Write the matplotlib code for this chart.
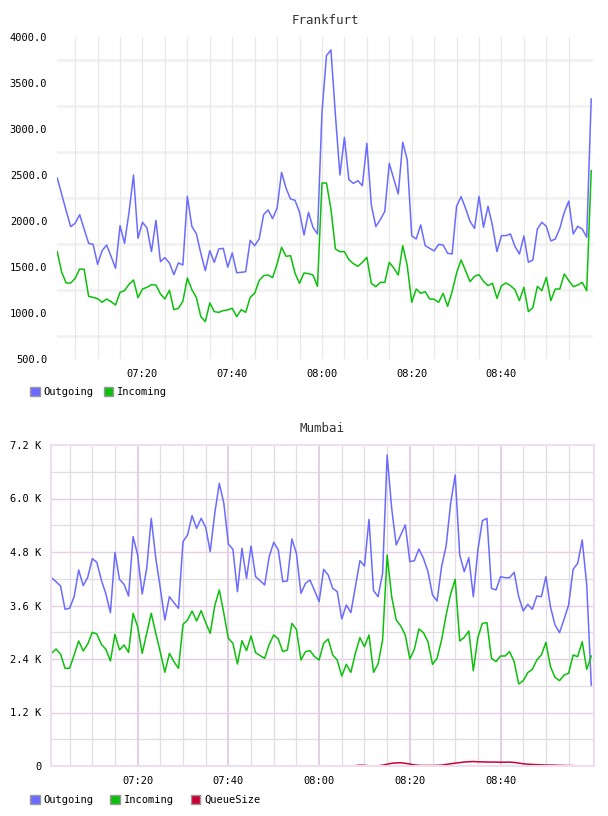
"""Two traffic panels (Frankfurt / Mumbai), per-minute samples 07:01 - 09:00."""

import numpy as np
import matplotlib
matplotlib.use("Agg")
import matplotlib.pyplot as plt
from matplotlib.patches import Patch
from matplotlib.ticker import FixedLocator, FuncFormatter

# minutes after 07:00, one sample per minute
MINUTES = list(range(1, 121))

FRA_OUTGOING = [
    2467, 2290, 2110, 1939, 1975, 2069, 1913, 1757, 1746, 1529,
    1678, 1739, 1616, 1486, 1949, 1757, 2094, 2500, 1812, 1986,
    1924, 1667, 2007, 1558, 1602, 1544, 1417, 1544, 1522, 2268,
    1942, 1862, 1649, 1460, 1678, 1551, 1696, 1703, 1497, 1653,
    1438, 1442, 1449, 1790, 1732, 1805, 2069, 2120, 2025, 2141,
    2529, 2355, 2239, 2225, 2094, 1848, 2094, 1931, 1859, 3181,
    3797, 3859, 3150, 2500, 2909, 2449, 2409, 2438, 2384, 2844,
    2174, 1939, 2015, 2105, 2627, 2457, 2294, 2855, 2667, 1841,
    1804, 1957, 1732, 1703, 1674, 1746, 1739, 1649, 1641, 2160,
    2265, 2138, 1996, 1920, 2268, 1931, 2160, 1949, 1667, 1841,
    1841, 1859, 1725, 1641, 1837, 1551, 1576, 1913, 1986, 1942,
    1783, 1804, 1920, 2094, 2217, 1859, 1942, 1913, 1823, 3326,
]
FRA_INCOMING = [
    1667, 1442, 1326, 1326, 1377, 1478, 1475, 1181, 1170, 1156,
    1116, 1152, 1123, 1087, 1225, 1243, 1312, 1359, 1167, 1261,
    1279, 1308, 1304, 1207, 1152, 1247, 1036, 1051, 1127, 1381,
    1254, 1170, 960, 906, 1109, 1015, 1007, 1026, 1033, 1051,
    960, 1036, 1007, 1170, 1214, 1352, 1406, 1413, 1384, 1533,
    1714, 1616, 1623, 1431, 1323, 1435, 1428, 1413, 1290, 2413,
    2413, 2130, 1696, 1667, 1667, 1580, 1536, 1507, 1551, 1605,
    1323, 1286, 1333, 1333, 1551, 1489, 1413, 1732, 1515, 1116,
    1261, 1214, 1232, 1152, 1149, 1116, 1214, 1073, 1232, 1435,
    1576, 1460, 1341, 1398, 1417, 1344, 1297, 1323, 1159, 1297,
    1326, 1297, 1254, 1134, 1279, 1015, 1058, 1290, 1243, 1388,
    1134, 1261, 1261, 1424, 1352, 1286, 1304, 1333, 1243, 2547,
]

BOM_OUTGOING = [
    4224, 4135, 4038, 3514, 3537, 3798, 4396, 4045, 4232, 4651,
    4568, 4172, 3858, 3439, 4793, 4187, 4075, 3813, 5144, 4733,
    3858, 4434, 5555, 4658, 3985, 3275, 3798, 3664, 3537, 5032,
    5182, 5615, 5331, 5555, 5354, 4808, 5668, 6340, 5892, 4980,
    4860, 3910, 4882, 4209, 4935, 4247, 4157, 4060, 4696, 5017,
    4845, 4135, 4150, 5092, 4770, 3873, 4097, 4172, 3933, 3686,
    4411, 4284, 3985, 3910, 3297, 3611, 3439, 4023, 4606, 4486,
    5533, 3933, 3798, 4322, 6976, 5780, 4957, 5182, 5406, 4583,
    4606, 4868, 4658, 4359, 3836, 3701, 4471, 4935, 5892, 6527,
    4733, 4359, 4673, 3798, 4845, 5503, 5555, 3985, 3948, 4247,
    4224, 4224, 4344, 3798, 3477, 3626, 3514, 3813, 3798, 4247,
    3574, 3163, 2991, 3290, 3611, 4411, 4546, 5069, 4060, 1817,
]
BOM_INCOMING = [
    2527, 2624, 2512, 2191, 2191, 2490, 2804, 2580, 2737, 2998,
    2961, 2729, 2617, 2355, 2953, 2602, 2714, 2550, 3424, 3125,
    2527, 2976, 3424, 2976, 2550, 2101, 2527, 2340, 2191, 3178,
    3275, 3477, 3252, 3484, 3215, 2976, 3596, 3948, 3424, 2864,
    2752, 2288, 2811, 2587, 2916, 2542, 2475, 2415, 2729, 2938,
    2849, 2565, 2602, 3200, 3066, 2378, 2565, 2587, 2452, 2378,
    2752, 2849, 2490, 2378, 2019, 2280, 2101, 2527, 2879, 2677,
    2938, 2101, 2288, 2826, 4733, 3798, 3275, 3140, 2938, 2400,
    2617, 3073, 2991, 2789, 2280, 2415, 2826, 3387, 3858, 4187,
    2804, 2886, 3028, 2138, 2886, 3200, 3215, 2415, 2340, 2467,
    2467, 2565, 2340, 1839, 1914, 2094, 2168, 2378, 2490, 2774,
    2228, 1989, 1914, 2041, 2079, 2490, 2452, 2789, 2168, 2467,
]
BOM_QUEUE = [
    0, 0, 0, 0, 0, 0, 0, 0, 0, 0,
    0, 0, 0, 0, 0, 0, 0, 0, 0, 0,
    0, 0, 0, 0, 0, 0, 0, 0, 0, 0,
    0, 0, 0, 0, 0, 0, 0, 0, 0, 0,
    0, 0, 0, 0, 0, 0, 0, 0, 0, 0,
    0, 0, 0, 0, 0, 0, 0, 0, 0, 0,
    0, 0, 0, 0, 0, 0, 2, 8, 18, 15,
    5, 3, 5, 20, 40, 60, 70, 72, 60, 45,
    25, 15, 12, 12, 12, 15, 20, 35, 50, 65,
    75, 90, 95, 100, 95, 92, 90, 88, 88, 85,
    85, 88, 80, 65, 50, 40, 35, 30, 25, 22,
    20, 18, 15, 12, 10, 8, 5, 3, 2, 0,
]

TIME_TICKS = [20, 40, 60, 80, 100]
FRA_LABEL_TICKS = [500, 1000, 1500, 2000, 2500, 3000, 3500, 4000]
FRA_GRID_TICKS = [750, 1250, 1750, 2250, 2750, 3250, 3750]
BOM_TICKS = [0, 1200, 2400, 3600, 4800, 6000, 7200]

C_OUT = "#6b6bff"
C_IN = "#0cc00c"
C_QUEUE = "#cc0033"
FONT = "DejaVu Sans Mono"
W, H = 608, 816


def _hhmm(m, _pos=None):
    return f"{7 + int(m) // 60:02d}:{int(m) % 60:02d}"


def _kilo(v, _pos=None):
    return "0" if v == 0 else f"{v / 1000:.1f} K"


def _axes_px(fig, left, top, right, bottom):
    return fig.add_axes([left / W, 1 - bottom / H, (right - left) / W, (bottom - top) / H])


def _legend(fig, names, colors, x0, y, step):
    handles = [Patch(facecolor=c, edgecolor="#999999", linewidth=1.0) for c in colors]
    fig.legend(handles, names, loc="center left", bbox_to_anchor=(x0 / W, 1 - y / H),
               ncol=len(names), frameon=False, handlelength=0.9, handleheight=0.9,
               handletextpad=0.4, columnspacing=step, borderpad=0,
               prop={"family": FONT, "size": 7.5})


fig = plt.figure(figsize=(W / 100, H / 100), dpi=100)

# ---- Frankfurt ----
ax = _axes_px(fig, 57, 37, 593, 359)
for v in FRA_GRID_TICKS:
    ax.axhline(v, color="#f2f2f2", linewidth=2.0, zorder=0)
for m in range(5, 120, 5):
    ax.axvline(m, color="#e8e8e8", linewidth=0.9, zorder=0)
ax.plot(MINUTES, FRA_OUTGOING, color=C_OUT, linewidth=1.1)
ax.plot(MINUTES, FRA_INCOMING, color=C_IN, linewidth=1.1)
ax.set_xlim(0.95, 120.4)
ax.set_ylim(500, 4000)
ax.yaxis.set_major_locator(FixedLocator(FRA_LABEL_TICKS))
ax.yaxis.set_major_formatter(FuncFormatter(lambda v, p: f"{v:.1f}"))
ax.xaxis.set_major_locator(FixedLocator(TIME_TICKS))
ax.xaxis.set_major_formatter(FuncFormatter(_hhmm))
for s in ax.spines.values():
    s.set_visible(False)
ax.tick_params(length=0, labelsize=7.5, pad=7)
for t in ax.get_xticklabels() + ax.get_yticklabels():
    t.set_fontfamily(FONT)
ax.set_title("Frankfurt", fontfamily=FONT, fontsize=9, color="#333333", pad=9)
_legend(fig, ["Outgoing", "Incoming"], [C_OUT, C_IN], 25, 392, 0.95)

# ---- Mumbai ----
ax = _axes_px(fig, 51, 445, 594, 766)
for v in range(600, 7200, 1200):
    ax.axhline(v, color="#e2dde2", linewidth=0.9, zorder=0)
for v in BOM_TICKS[1:-1]:
    ax.axhline(v, color="#e6cfe6", linewidth=1.0, zorder=0)
for m in range(5, 120, 5):
    major = m % 20 == 0
    ax.axvline(m, color="#e2cce2" if major else "#e2dde2",
               linewidth=1.3 if major else 0.9, zorder=0)
ax.plot(MINUTES, BOM_OUTGOING, color=C_OUT, linewidth=1.1)
ax.plot(MINUTES, BOM_INCOMING, color=C_IN, linewidth=1.1)
ax.plot(MINUTES, BOM_QUEUE, color=C_QUEUE, linewidth=1.1)
ax.set_xlim(0.9, 120.6)
ax.set_ylim(0, 7200)
ax.yaxis.set_major_locator(FixedLocator(BOM_TICKS))
ax.yaxis.set_major_formatter(FuncFormatter(_kilo))
ax.xaxis.set_major_locator(FixedLocator(TIME_TICKS))
ax.xaxis.set_major_formatter(FuncFormatter(_hhmm))
for s in ax.spines.values():
    s.set_color("#eddfed")
    s.set_linewidth(1.5)
ax.tick_params(length=0, labelsize=7.5, pad=7)
for t in ax.get_xticklabels() + ax.get_yticklabels():
    t.set_fontfamily(FONT)
ax.set_title("Mumbai", fontfamily=FONT, fontsize=9, color="#333333", pad=9)
_legend(fig, ["Outgoing", "Incoming", "QueueSize"], [C_OUT, C_IN, C_QUEUE], 25, 800, 1.6)

fig.savefig("out.png", dpi=100, facecolor="white")
